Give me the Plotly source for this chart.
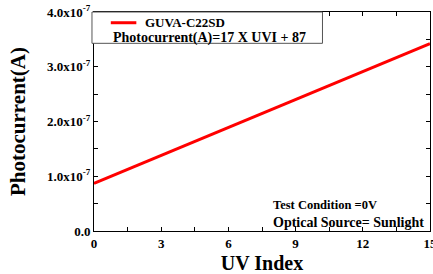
import plotly.graph_objects as go

uv_index = [0, 15]
photocurrent = [8.7e-8, 3.42e-7]
x_ticks = [0, 3, 6, 9, 12, 15]
y_ticks = [0, 1e-7, 2e-7, 3e-7, 4e-7]
y_tick_labels = ["0.0", "1.0x10<sup>-7</sup>", "2.0x10<sup>-7</sup>",
                 "3.0x10<sup>-7</sup>", "4.0x10<sup>-7</sup>"]
series_name = "GUVA-C22SD"
equation = "Photocurrent(A)=17 X UVI + 87"
notes = ["Test Condition =0V", "Optical Source= Sunlight"]

FONT = "Liberation Serif"
fig = go.Figure()
fig.add_trace(go.Scatter(x=uv_index, y=photocurrent, mode="lines",
                         line=dict(color="#ff0000", width=3), name=series_name,
                         showlegend=False))

axis_common = dict(showline=True, linecolor="black", linewidth=1, mirror="ticks",
                   ticks="inside", ticklen=4, tickcolor="black", showgrid=False,
                   zeroline=False, automargin=False, ticklabeloverflow="allow",
                   tickfont=dict(family=FONT, size=13, color="black"))
fig.update_xaxes(range=[0, 15], tickvals=x_ticks, ticktext=[f"<b>{v}</b>" for v in x_ticks],
                 minor=dict(ticks="inside", ticklen=4, dtick=1.5, tickcolor="black"),
                 title=dict(text="<b>UV Index</b>", font=dict(family=FONT, size=20, color="black")),
                 **axis_common)
fig.update_yaxes(range=[0, 4e-7], tickvals=y_ticks,
                 ticktext=[f"<b>{t}</b>" for t in y_tick_labels],
                 minor=dict(ticks="inside", ticklen=4, dtick=0.5e-7, tickcolor="black"),
                 title=dict(text="<b>Photocurrent(A)</b>", font=dict(family=FONT, size=21, color="black")),
                 **axis_common)

# legend box
fig.add_shape(type="rect", xref="paper", yref="paper", x0=-0.006, x1=0.68, y0=0.857, y1=1.0,
              line=dict(color="#555555", width=1), fillcolor="white", layer="above")
fig.add_shape(type="line", xref="paper", yref="paper", x0=0.05, x1=0.126, y0=0.951, y1=0.951,
              line=dict(color="#ff0000", width=3), layer="above")
fig.add_annotation(xref="paper", yref="paper", x=0.145, y=0.951, text=f"<b>{series_name}</b>",
                   showarrow=False, xanchor="left", yanchor="middle",
                   font=dict(family=FONT, size=13, color="black"))
fig.add_annotation(xref="paper", yref="paper", x=0.05, y=0.882, text=f"<b>{equation}</b>",
                   showarrow=False, xanchor="left", yanchor="middle",
                   font=dict(family=FONT, size=14, color="black"))
fig.add_annotation(xref="paper", yref="paper", x=0.527, y=0.117, text=f"<b>{notes[0]}</b>",
                   showarrow=False, xanchor="left", yanchor="middle",
                   font=dict(family=FONT, size=12.5, color="black"))
fig.add_annotation(xref="paper", yref="paper", x=0.527, y=0.038, text=f"<b>{notes[1]}</b>",
                   showarrow=False, xanchor="left", yanchor="middle",
                   font=dict(family=FONT, size=14, color="black"))

fig.update_layout(width=433, height=274, margin=dict(l=94, r=3, t=12, b=43),
                  plot_bgcolor="white", paper_bgcolor="white")
fig.write_html("out.html", config={"displayModeBar": False},
               post_script="document.body.style.margin='0';document.body.style.overflow='hidden';")
